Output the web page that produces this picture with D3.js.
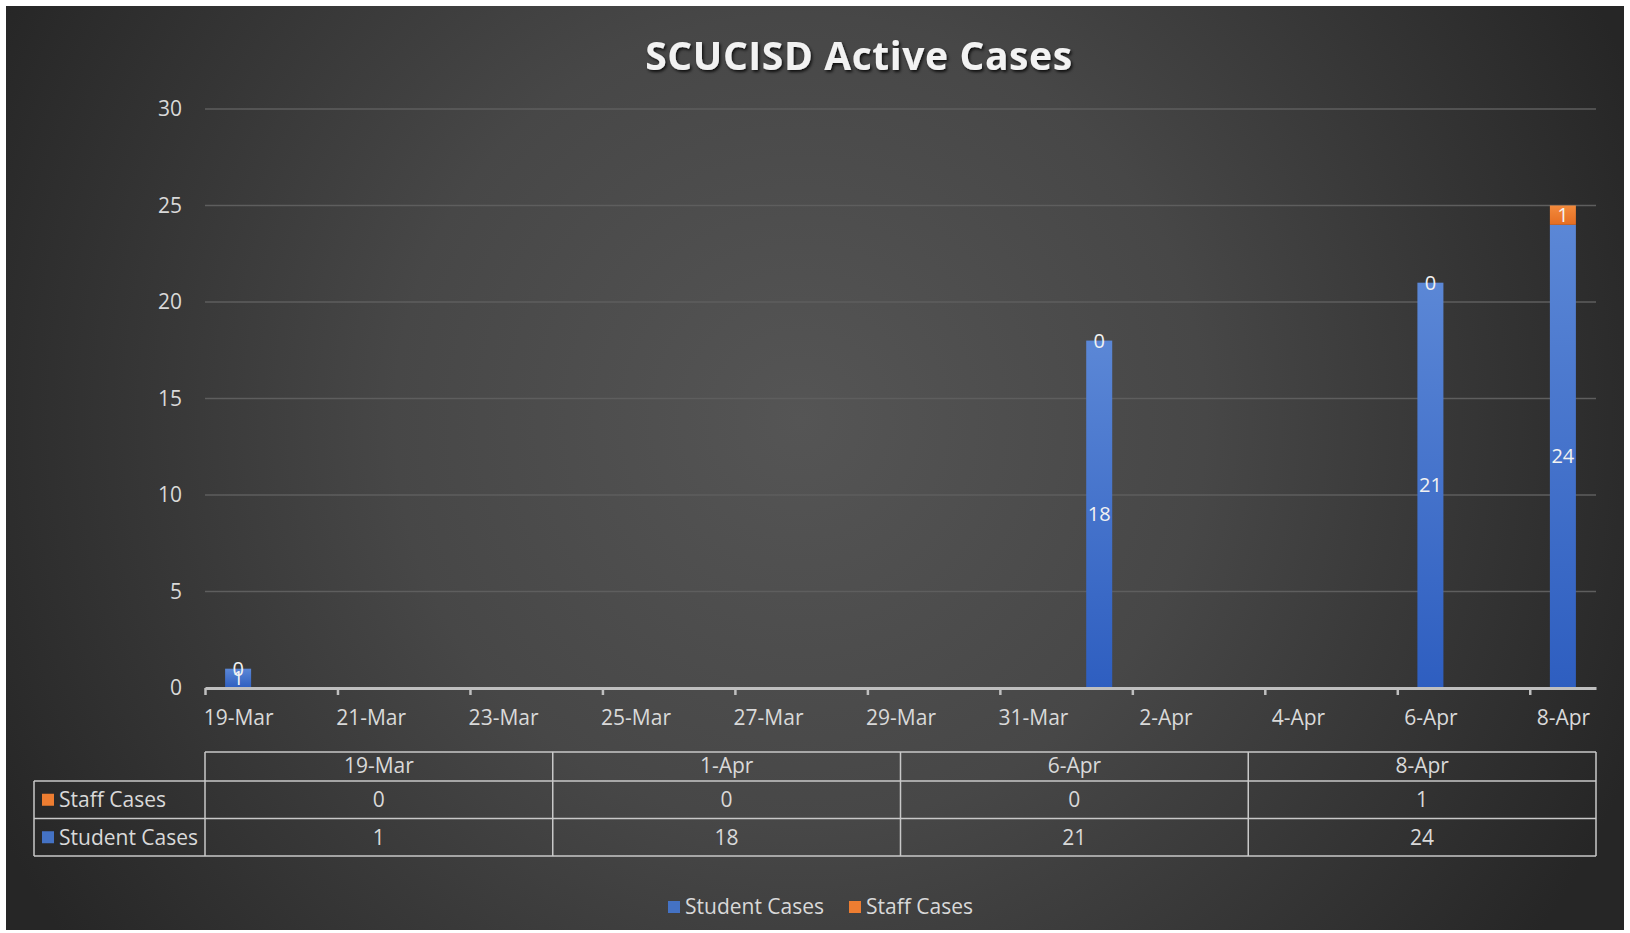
<!DOCTYPE html>
<html>
<head>
<meta charset="utf-8">
<script src="https://cdn.jsdelivr.net/npm/d3@7"></script>
<style>
  body { margin: 0; background: #fff; }
  text { font-family: 'Open Sans', sans-serif; }
</style>
</head>
<body>
<div id="chart"></div>
<script>
'use strict';

/* data */
var dates = ['2021-03-19', '2021-04-01', '2021-04-06', '2021-04-08'];
var dateLabels = ['19-Mar', '1-Apr', '6-Apr', '8-Apr'];
var studentCases = [1, 18, 21, 24];
var staffCases = [0, 0, 0, 1];
var yTicks = [0, 5, 10, 15, 20, 25, 30];
var seriesNames = ['Student Cases', 'Staff Cases'];
var title = 'SCUCISD Active Cases';

var width = 1630;
var height = 933;
var textColor = '#d9d9d9';
var blue = '#4472c4';
var orange = '#ed7d31';

var parse = d3.timeParse('%Y-%m-%d');
var startDay = parse('2021-03-19');
var endDay = parse('2021-04-09');

var plotLeft = 205;
var plotRight = 1596;
var plotTop = 109;
var plotBottom = 688;

var svg = d3.select('#chart')
  .append('svg')
  .attr('width', width)
  .attr('height', height);

var defs = svg.append('defs');

var bg = defs.append('radialGradient')
  .attr('id', 'bg')
  .attr('gradientUnits', 'userSpaceOnUse')
  .attr('cx', 800).attr('cy', 420).attr('r', 900);
bg.append('stop').attr('offset', '0%').attr('stop-color', '#555555');
bg.append('stop').attr('offset', '45%').attr('stop-color', '#474747');
bg.append('stop').attr('offset', '100%').attr('stop-color', '#262626');

var gBlue = defs.append('linearGradient')
  .attr('id', 'gBlue').attr('x1', 0).attr('y1', 0).attr('x2', 0).attr('y2', 1);
gBlue.append('stop').attr('offset', '0%').attr('stop-color', '#5b87d6');
gBlue.append('stop').attr('offset', '100%').attr('stop-color', '#2e5ec0');

var gOrange = defs.append('linearGradient')
  .attr('id', 'gOrange').attr('x1', 0).attr('y1', 0).attr('x2', 0).attr('y2', 1);
gOrange.append('stop').attr('offset', '0%').attr('stop-color', '#f38a3c');
gOrange.append('stop').attr('offset', '100%').attr('stop-color', '#e56d22');

var shadow = defs.append('filter').attr('id', 'shadow')
  .attr('x', '-10%').attr('y', '-30%').attr('width', '120%').attr('height', '160%');
shadow.append('feDropShadow')
  .attr('dx', 1.5).attr('dy', 2).attr('stdDeviation', 1.5)
  .attr('flood-color', '#000').attr('flood-opacity', 0.8);

/* background with thin white frame */
svg.append('rect')
  .attr('x', 6).attr('y', 6)
  .attr('width', width - 12).attr('height', height - 9)
  .attr('fill', 'url(#bg)');

/* title */
svg.append('text')
  .attr('x', 859)
  .attr('y', 70)
  .attr('text-anchor', 'middle')
  .style('font-size', '39px')
  .style('font-weight', 'bold')
  .style('letter-spacing', '0.6px')
  .attr('fill', '#f2f2f2')
  .attr('filter', 'url(#shadow)')
  .text(title);

/* scales */
var x = d3.scaleTime()
  .domain([startDay, endDay])
  .range([plotLeft, plotRight]);
var y = d3.scaleLinear()
  .domain([0, 30])
  .range([plotBottom, plotTop]);
var dayWidth = x(d3.timeDay.offset(startDay, 1)) - x(startDay);
var barWidth = 26;

/* gridlines */
svg.append('g')
  .selectAll('line')
  .data(yTicks.slice(1))
  .enter()
  .append('line')
  .attr('x1', plotLeft)
  .attr('x2', plotRight)
  .attr('y1', function(d) { return y(d); })
  .attr('y2', function(d) { return y(d); })
  .attr('stroke', '#5e5e5e')
  .attr('stroke-width', 1.5);

/* y axis labels */
var yAxis = svg.append('g')
  .attr('transform', 'translate(' + plotLeft + ',0)')
  .call(d3.axisLeft(y).tickValues(yTicks).tickSize(0).tickPadding(23));
yAxis.select('.domain').remove();
yAxis.selectAll('text')
  .attr('fill', textColor)
  .style('font-size', '21px')
  .style('font-family', "'Open Sans', sans-serif");

/* bars */
var rows = dates.map(function(d, i) {
  return { date: parse(d), student: studentCases[i], staff: staffCases[i] };
});

function barX(d) {
  return x(d.date) + dayWidth / 2 - barWidth / 2;
}

var bars = svg.append('g');
bars.selectAll('.student')
  .data(rows)
  .enter()
  .append('rect')
  .attr('x', barX)
  .attr('y', function(d) { return y(d.student); })
  .attr('width', barWidth)
  .attr('height', function(d) { return y(0) - y(d.student); })
  .attr('fill', 'url(#gBlue)');
bars.selectAll('.staff')
  .data(rows)
  .enter()
  .append('rect')
  .attr('x', barX)
  .attr('y', function(d) { return y(d.student + d.staff); })
  .attr('width', barWidth)
  .attr('height', function(d) { return y(d.student) - y(d.student + d.staff); })
  .attr('fill', 'url(#gOrange)');

/* x axis: a tick every second day counted from the first day */
var tickDays = d3.timeDay.range(startDay, endDay).filter(function(d, i) {
  return i % 2 === 0;
});
var xAxis = svg.append('g')
  .attr('transform', 'translate(0,' + plotBottom + ')')
  .call(d3.axisBottom(x)
    .tickValues(tickDays)
    .tickSizeInner(7)
    .tickSizeOuter(0)
    .tickPadding(15)
    .tickFormat(d3.timeFormat('%-d-%b')));
xAxis.select('.domain')
  .attr('stroke', '#bfbfbf')
  .attr('stroke-width', 3);
xAxis.selectAll('line')
  .attr('stroke', '#bfbfbf')
  .attr('stroke-width', 2.5);
xAxis.selectAll('text')
  .attr('x', dayWidth / 2)
  .attr('fill', textColor)
  .style('font-size', '21px')
  .style('font-family', "'Open Sans', sans-serif");

/* data labels */
var labels = svg.append('g')
  .attr('text-anchor', 'middle')
  .style('font-size', '20px')
  .attr('fill', '#f2f2f2');
labels.selectAll('.lblStudent')
  .data(rows)
  .enter()
  .append('text')
  .attr('x', function(d) { return x(d.date) + dayWidth / 2; })
  .attr('y', function(d) { return y(d.student / 2); })
  .attr('dy', '0.35em')
  .text(function(d) { return d.student; });
labels.selectAll('.lblStaff')
  .data(rows)
  .enter()
  .append('text')
  .attr('x', function(d) { return x(d.date) + dayWidth / 2; })
  .attr('y', function(d) { return y(d.student + d.staff / 2); })
  .attr('dy', '0.35em')
  .text(function(d) { return d.staff; });

/* data table */
var tableTop = 752;
var rowH = 37.5;
var headH = 29;
var tableLeft = 34;
var colW = (plotRight - plotLeft) / dateLabels.length;
var table = svg.append('g');
var lineColor = '#c8c8c8';

function hline(x1, x2, yy) {
  table.append('line')
    .attr('x1', x1).attr('x2', x2).attr('y1', yy).attr('y2', yy)
    .attr('stroke', lineColor).attr('stroke-width', 1.5);
}
function vline(xx, y1, y2) {
  table.append('line')
    .attr('x1', xx).attr('x2', xx).attr('y1', y1).attr('y2', y2)
    .attr('stroke', lineColor).attr('stroke-width', 1.5);
}

var r1 = tableTop + headH;
var r2 = r1 + rowH;
var r3 = r2 + rowH;
hline(plotLeft, plotRight, tableTop);
hline(tableLeft, plotRight, r1);
hline(tableLeft, plotRight, r2);
hline(tableLeft, plotRight, r3);
vline(tableLeft, r1, r3);
for(var c = 0; c <= dateLabels.length; c++) {
  vline(plotLeft + c * colW, tableTop, r3);
}

table.selectAll('.head')
  .data(dateLabels)
  .enter()
  .append('text')
  .attr('x', function(d, i) { return plotLeft + (i + 0.5) * colW; })
  .attr('y', tableTop + headH / 2 - 1)
  .attr('dy', '0.35em')
  .attr('text-anchor', 'middle')
  .attr('fill', textColor)
  .style('font-size', '21px')
  .text(function(d) { return d; });

var tableRows = [
  { name: 'Staff Cases', values: staffCases, color: orange, y: r1 },
  { name: 'Student Cases', values: studentCases, color: blue, y: r2 }
];
tableRows.forEach(function(r) {
  table.append('rect')
    .attr('x', 42).attr('y', r.y + rowH / 2 - 6)
    .attr('width', 12).attr('height', 12)
    .attr('fill', r.color);
  table.append('text')
    .attr('x', 59)
    .attr('y', r.y + rowH / 2)
    .attr('dy', '0.35em')
    .attr('fill', textColor)
    .style('font-size', '21px')
    .text(r.name);
  table.selectAll(null)
    .data(r.values)
    .enter()
    .append('text')
    .attr('x', function(d, i) { return plotLeft + (i + 0.5) * colW; })
    .attr('y', r.y + rowH / 2)
    .attr('dy', '0.35em')
    .attr('text-anchor', 'middle')
    .attr('fill', textColor)
    .style('font-size', '21px')
    .text(function(d) { return d; });
});

/* legend */
var legendItems = [
  { name: seriesNames[0], color: blue, x: 668 },
  { name: seriesNames[1], color: orange, x: 849 }
];
var legend = svg.selectAll('.legend')
  .data(legendItems)
  .enter()
  .append('g')
  .attr('class', 'legend')
  .attr('transform', function(d) { return 'translate(' + d.x + ',907)'; });
legend.append('rect')
  .attr('x', 0).attr('y', -6)
  .attr('width', 12).attr('height', 12)
  .attr('fill', function(d) { return d.color; });
legend.append('text')
  .attr('x', 17)
  .attr('dy', '0.35em')
  .attr('fill', textColor)
  .style('font-size', '21px')
  .text(function(d) { return d.name; });
</script>
</body>
</html>
